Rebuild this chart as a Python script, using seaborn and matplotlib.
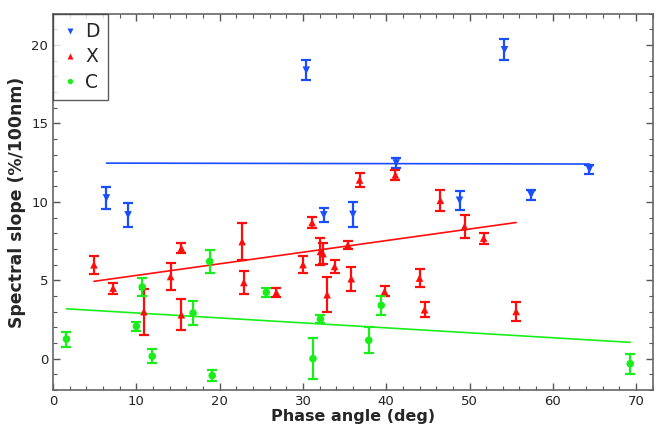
import numpy as np
import pandas as pd
import matplotlib
matplotlib.use("Agg")
import matplotlib.pyplot as plt
import seaborn as sns
from matplotlib.ticker import MultipleLocator

# ---- data ----
d_phase = [6.4, 9.0, 30.4, 32.5, 36.0, 41.2, 48.8, 54.2, 57.4, 64.4]
d_slope = [10.25, 9.17, 18.4, 9.17, 9.2, 12.48, 10.1, 19.7, 10.45, 12.08]
d_err = [0.7, 0.78, 0.64, 0.47, 0.8, 0.3, 0.6, 0.67, 0.33, 0.29]

x_phase = [4.9, 7.2, 10.9, 14.1, 15.4, 15.4, 22.7, 22.9, 26.8, 30.0, 31.1, 32.1,
           32.4, 32.9, 33.8, 35.4, 35.8, 36.8, 39.8, 41.1, 44.0, 44.6, 46.5,
           49.4, 51.7, 55.6]
x_slope = [5.99, 4.5, 3.0, 5.24, 7.05, 2.8, 7.47, 4.86, 4.23, 6.0, 8.68, 6.84,
           6.7, 4.08, 5.88, 7.26, 5.1, 11.4, 4.29, 11.72, 5.14, 3.12, 10.1,
           8.43, 7.69, 3.01]
x_err = [0.56, 0.35, 1.47, 0.87, 0.32, 1.0, 1.17, 0.74, 0.3, 0.55, 0.34, 0.85,
         0.69, 1.13, 0.4, 0.27, 0.77, 0.42, 0.32, 0.3, 0.58, 0.48, 0.69,
         0.72, 0.35, 0.6]

c_phase = [1.6, 10.0, 10.7, 11.9, 16.8, 18.8, 19.1, 25.6, 31.2, 32.1, 37.9, 39.4, 69.3]
c_slope = [1.25, 2.06, 4.57, 0.15, 2.91, 6.2, -1.08, 4.23, 0.0, 2.53, 1.17, 3.4, -0.32]
c_err = [0.48, 0.29, 0.55, 0.45, 0.74, 0.74, 0.35, 0.27, 1.3, 0.27, 0.84, 0.6, 0.63]

classes = ["D", "X", "C"]
fit_intercept = [12.48, 4.57, 3.23]
fit_slope = [-0.001, 0.074, -0.0316]

colors = {"D": "#1a4dff", "X": "#ff0d0d", "C": "#1aee1a"}
markers = {"D": "v", "X": "^", "C": "o"}

df = pd.concat([
    pd.DataFrame({"phase": d_phase, "slope": d_slope, "err": d_err, "cls": "D"}),
    pd.DataFrame({"phase": x_phase, "slope": x_slope, "err": x_err, "cls": "X"}),
    pd.DataFrame({"phase": c_phase, "slope": c_slope, "err": c_err, "cls": "C"}),
], ignore_index=True)

sns.set_style("ticks")
plt.rcParams["font.family"] = ["DejaVu Sans"]

fig = plt.figure(figsize=(6.56, 4.30), dpi=100)
ax = fig.add_axes([0.081, 0.093, 0.914, 0.875])

# fit lines
for cls, b0, b1 in zip(classes, fit_intercept, fit_slope):
    sub = df[df.cls == cls]
    xs = np.array([sub.phase.min(), sub.phase.max()])
    line = pd.DataFrame({"phase": xs, "slope": b0 + b1 * xs})
    sns.lineplot(data=line, x="phase", y="slope", color=colors[cls], lw=1.2, ax=ax,
                 legend=False)

# error bars
for cls in classes:
    sub = df[df.cls == cls]
    ax.errorbar(sub.phase, sub.slope, yerr=sub.err, fmt="none", ecolor=colors[cls],
                elinewidth=1.6, capsize=3.5, capthick=1.6, zorder=3)

sns.scatterplot(data=df, x="phase", y="slope", hue="cls", style="cls",
                palette=colors, markers=markers, hue_order=classes, style_order=classes,
                s=30, edgecolor="none", ax=ax, zorder=4)

ax.set_xlim(0, 72)
ax.set_ylim(-2, 22)
ax.xaxis.set_major_locator(MultipleLocator(10))
ax.xaxis.set_minor_locator(MultipleLocator(2))
ax.yaxis.set_major_locator(MultipleLocator(5))
ax.yaxis.set_minor_locator(MultipleLocator(1))
ax.tick_params(which="both", direction="in", top=True, right=True, colors="#555555",
               labelcolor="#222222", labelsize=9.5)
ax.tick_params(which="major", length=5, width=1)
ax.tick_params(which="minor", length=3, width=0.8)
for s in ax.spines.values():
    s.set_color("#666666")
    s.set_linewidth(1.2)

ax.set_xlabel("Phase angle (deg)", fontsize=11.5, fontweight="bold", labelpad=1)
ax.set_ylabel("Spectral slope (%/100nm)", fontsize=12.4, fontweight="bold", labelpad=4)

handles, labels = ax.get_legend_handles_labels()
leg = ax.legend(handles, labels, loc="upper left", fontsize=13.5, frameon=True,
                fancybox=False, borderaxespad=0, handletextpad=0.35,
                labelspacing=0.33, handlelength=0.9, borderpad=0.45, markerscale=0.7)
leg.get_frame().set_edgecolor("#333333")
leg.get_frame().set_linewidth(1.0)

fig.savefig("out.png", dpi=100)
